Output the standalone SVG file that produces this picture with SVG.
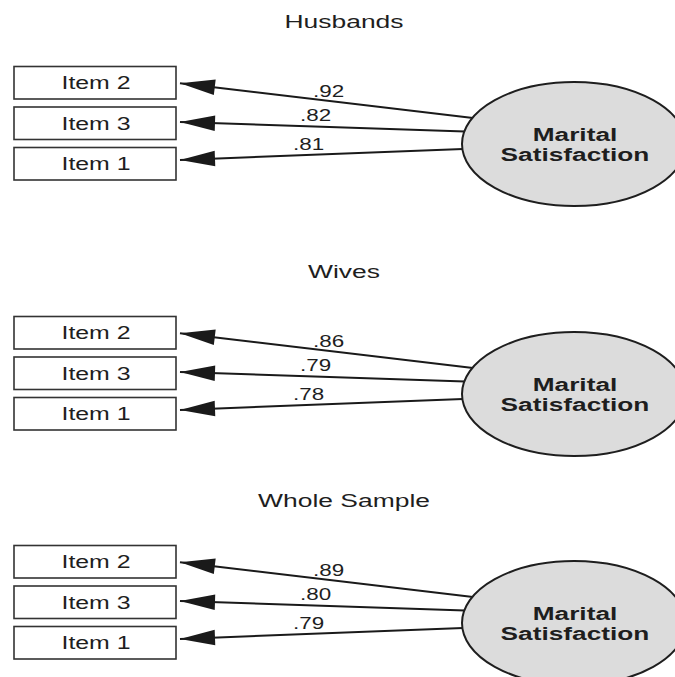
<svg xmlns="http://www.w3.org/2000/svg" width="675" height="677" viewBox="0 0 675 677">
<style>
text{font-family:"Liberation Sans",Arial,sans-serif;fill:#1e1e1e}
.title{font-size:18.5px;text-anchor:middle}
.item{font-size:17.5px;text-anchor:middle}
.lat{font-size:18.5px;font-weight:bold;text-anchor:middle}
.lbl{font-size:16px}
.box{fill:#fff;stroke:#333;stroke-width:1.6}
.ell{fill:#dcdcdc;stroke:#1e1e1e;stroke-width:2}
.edge{fill:none;stroke:#1a1a1a;stroke-width:2;marker-end:url(#ah)}
</style>
<defs>
<marker id="ah" markerUnits="userSpaceOnUse" viewBox="-36 -9 37 18" markerWidth="37" markerHeight="18" refX="0" refY="0" orient="auto">
<path d="M0,0 L-35,-7.8 L-35,7.8 Z" fill="#1a1a1a"/>
</marker>
</defs>

<g id="husbands">
<text class="title" transform="translate(344,28) scale(1.43,1)">Husbands</text>
<g id="husbands-connectors">
<path class="edge" d="M473,118 L180,83.2"/>
<path class="edge" d="M465,131.5 L180,122.1"/>
<path class="edge" d="M463,149 L180,159.9"/>
<text class="lbl" transform="translate(313,96.7) scale(1.4,1)">.92</text>
<text class="lbl" transform="translate(300,120.7) scale(1.4,1)">.82</text>
<text class="lbl" transform="translate(293,150) scale(1.4,1)">.81</text>
</g>
<g id="h-item2"><rect class="box" x="14" y="66.5" width="162" height="32.5"/><text class="item" transform="translate(96,89.3) scale(1.42,1)">Item 2</text></g>
<g id="h-item3"><rect class="box" x="14" y="107" width="162" height="32.5"/><text class="item" transform="translate(96,129.8) scale(1.42,1)">Item 3</text></g>
<g id="h-item1"><rect class="box" x="14" y="147.5" width="162" height="32.5"/><text class="item" transform="translate(96,170.3) scale(1.42,1)">Item 1</text></g>
<g id="h-ms"><ellipse class="ell" cx="574" cy="144" rx="112" ry="62"/><text class="lat" transform="translate(575,141.4) scale(1.42,1)">Marital</text><text class="lat" transform="translate(575,160.8) scale(1.42,1)">Satisfaction</text></g>
</g>

<g id="wives" transform="translate(0,250)">
<text class="title" transform="translate(344,28) scale(1.43,1)">Wives</text>
<g id="wives-connectors">
<path class="edge" d="M473,118 L180,83.2"/>
<path class="edge" d="M465,131.5 L180,122.1"/>
<path class="edge" d="M463,149 L180,159.9"/>
<text class="lbl" transform="translate(313,96.7) scale(1.4,1)">.86</text>
<text class="lbl" transform="translate(300,120.7) scale(1.4,1)">.79</text>
<text class="lbl" transform="translate(293,150) scale(1.4,1)">.78</text>
</g>
<g id="w-item2"><rect class="box" x="14" y="66.5" width="162" height="32.5"/><text class="item" transform="translate(96,89.3) scale(1.42,1)">Item 2</text></g>
<g id="w-item3"><rect class="box" x="14" y="107" width="162" height="32.5"/><text class="item" transform="translate(96,129.8) scale(1.42,1)">Item 3</text></g>
<g id="w-item1"><rect class="box" x="14" y="147.5" width="162" height="32.5"/><text class="item" transform="translate(96,170.3) scale(1.42,1)">Item 1</text></g>
<g id="w-ms"><ellipse class="ell" cx="574" cy="144" rx="112" ry="62"/><text class="lat" transform="translate(575,141.4) scale(1.42,1)">Marital</text><text class="lat" transform="translate(575,160.8) scale(1.42,1)">Satisfaction</text></g>
</g>

<g id="whole" transform="translate(0,479)">
<text class="title" transform="translate(344,28) scale(1.43,1)">Whole Sample</text>
<g id="whole-connectors">
<path class="edge" d="M473,118 L180,83.2"/>
<path class="edge" d="M465,131.5 L180,122.1"/>
<path class="edge" d="M463,149 L180,159.9"/>
<text class="lbl" transform="translate(313,96.7) scale(1.4,1)">.89</text>
<text class="lbl" transform="translate(300,120.7) scale(1.4,1)">.80</text>
<text class="lbl" transform="translate(293,150) scale(1.4,1)">.79</text>
</g>
<g id="s-item2"><rect class="box" x="14" y="66.5" width="162" height="32.5"/><text class="item" transform="translate(96,89.3) scale(1.42,1)">Item 2</text></g>
<g id="s-item3"><rect class="box" x="14" y="107" width="162" height="32.5"/><text class="item" transform="translate(96,129.8) scale(1.42,1)">Item 3</text></g>
<g id="s-item1"><rect class="box" x="14" y="147.5" width="162" height="32.5"/><text class="item" transform="translate(96,170.3) scale(1.42,1)">Item 1</text></g>
<g id="s-ms"><ellipse class="ell" cx="574" cy="144" rx="112" ry="62"/><text class="lat" transform="translate(575,141.4) scale(1.42,1)">Marital</text><text class="lat" transform="translate(575,160.8) scale(1.42,1)">Satisfaction</text></g>
</g>
</svg>
